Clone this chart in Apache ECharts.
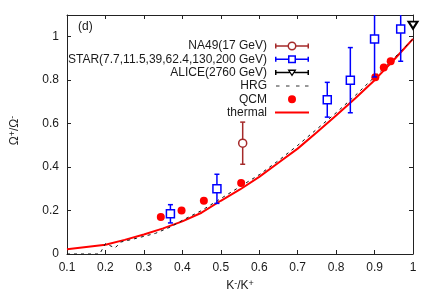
<!DOCTYPE html>
<html>
<head>
<meta charset="utf-8">
<script src="https://cdn.jsdelivr.net/npm/echarts@6/dist/echarts.min.js"></script>
<style>html,body{margin:0;padding:0;background:#fff}#c{width:436px;height:305px}</style>
</head>
<body>
<div id="c"></div>
<script>
// ---- data ----
const thermalX = [0.1, 0.2, 0.25, 0.3, 0.35, 0.4, 0.45, 0.5, 0.55, 0.6, 0.65, 0.7, 0.75, 0.8, 0.85, 0.9, 0.95, 1.0];
const thermalY = [0.022, 0.043, 0.065, 0.09, 0.118, 0.15, 0.19, 0.245, 0.297, 0.355, 0.42, 0.485, 0.56, 0.637, 0.717, 0.80, 0.893, 0.99];

const hrgX = [0.1, 0.185, 0.2, 0.225, 0.24, 0.28, 0.33, 0.37, 0.4, 0.45, 0.5, 0.55, 0.6, 0.65, 0.7, 0.75, 0.8, 0.85, 0.9, 0.95, 1.0];
const hrgY = [0.0, 0.0, 0.048, 0.028, 0.055, 0.072, 0.095, 0.125, 0.155, 0.2, 0.255, 0.31, 0.365, 0.43, 0.5, 0.575, 0.65, 0.73, 0.815, 0.9, 0.99];

const qcmX = [0.344, 0.398, 0.456, 0.553, 0.902, 0.924, 0.942];
const qcmY = [0.17, 0.20, 0.245, 0.327, 0.813, 0.858, 0.887];

const starX = [0.369, 0.49, 0.777, 0.837, 0.90, 0.968];
const starY = [0.185, 0.30, 0.71, 0.80, 0.99, 1.035];
const starErr = [0.042, 0.067, 0.08, 0.15, 0.175, 0.148];

const na49X = [0.557];
const na49Y = [0.51];
const na49Err = [0.097];

const aliceX = [1.0];
const aliceY = [1.053];

const xTickMin = 0.1, xTickMax = 1.0, xTickStep = 0.1;
const yTickMin = 0, yTickMax = 1.1, yTickStep = 0.2;

const names = {
  na49: 'NA49(17 GeV)',
  star: 'STAR(7.7,11.5,39,62.4,130,200 GeV)',
  alice: 'ALICE(2760 GeV)',
  hrg: 'HRG',
  qcm: 'QCM',
  thermal: 'thermal'
};

// ---- styling ----
const FONT = '"Liberation Sans", Arial, Helvetica, sans-serif';
const TXT = '#1a1a1a';
const RED = '#ff0000', BLUE = '#0000ff', BROWN = '#a52a2a', BLACK = '#000000';

const zip = (xs, ys) => xs.map((x, i) => [x, ys[i]]);
const zip3 = (xs, ys, es) => xs.map((x, i) => [x, ys[i], es[i]]);

function errRender(color, capHalf, lw) {
  return function (params, api) {
    const x = api.value(0), y = api.value(1), e = api.value(2);
    const top = api.coord([x, y + e]);
    const bot = api.coord([x, y - e]);
    const cs = params.coordSys;
    const ymin = cs.y, ymax = cs.y + cs.height;
    const t = Math.max(top[1], ymin), b = Math.min(bot[1], ymax);
    const st = { stroke: color, lineWidth: lw };
    const ch = [{ type: 'line', shape: { x1: top[0], y1: t, x2: top[0], y2: b }, style: st }];
    if (top[1] >= ymin) ch.push({ type: 'line', shape: { x1: top[0] - capHalf, y1: top[1], x2: top[0] + capHalf, y2: top[1] }, style: st });
    if (bot[1] <= ymax) ch.push({ type: 'line', shape: { x1: bot[0] - capHalf, y1: bot[1], x2: bot[0] + capHalf, y2: bot[1] }, style: st });
    return { type: 'group', children: ch };
  };
}

// legend icon paths, each in a 34x10 box
const BOX = 'M0,0h0.01v0.01h-0.01Z M33.99,9.99h0.01v0.01h-0.01Z ';
const CAPS = 'M0,2.5H1.5V7.5H0Z M32.5,2.5H34V7.5H32.5Z ';
const iconNA49 = 'path://' + BOX + CAPS +
  'M0,4.25H13V5.75H0Z M21,4.25H34V5.75H21Z ' +
  'M12.5,5A4.5,4.5 0 1 1 21.5,5A4.5,4.5 0 1 1 12.5,5Z M14,5A3,3 0 1 0 20,5A3,3 0 1 0 14,5Z';
const iconSTAR = 'path://' + BOX + CAPS +
  'M0,4.25H13.5V5.75H0Z M20.5,4.25H34V5.75H20.5Z ' +
  'M13,1H21V9H13Z M14.5,2.5V7.5H19.5V2.5Z';
const iconALICE = 'path://' + BOX + CAPS +
  'M0,4.25H14.5V5.75H0Z M19.5,4.25H34V5.75H19.5Z ' +
  'M12.5,2H21.5L17,9Z M14.9,3.4L17,6.6L19.1,3.4Z';
const iconHRG = 'path://' + BOX +
  'M1,4.5h3.5v1h-3.5Z M11,4.5h3.5v1h-3.5Z M21,4.5h3.5v1h-3.5Z M30,4.5h3.5v1h-3.5Z';
const iconQCM = 'path://' + BOX + 'M13,5A4,4 0 1 1 21,5A4,4 0 1 1 13,5Z';
const iconThermal = 'path://' + BOX + 'M0,4H34V6H0Z';

const tickFmt = v => String(+(+v).toFixed(2));

const chart = echarts.init(document.getElementById('c'), null, { renderer: 'canvas' });
chart.setOption({
  animation: false,
  backgroundColor: '#fff',
  textStyle: { fontFamily: FONT },
  title: {
    text: '(d)', left: 78, top: 21, padding: 0,
    textStyle: { fontSize: 12, fontWeight: 'normal', color: TXT, fontFamily: FONT }
  },
  grid: { left: 60, right: 23, top: 15, bottom: 51, containLabel: false },
  legend: {
    orient: 'vertical', align: 'right', right: 122, top: 35,
    itemWidth: 34, itemHeight: 10, itemGap: 1.3, selectedMode: false,
    textStyle: { fontSize: 12, fontFamily: FONT, color: TXT, lineHeight: 12, padding: [0, 3, 0, 0] },
    itemStyle: { borderWidth: 0 },
    data: [
      { name: names.na49, icon: iconNA49, itemStyle: { color: BROWN, borderWidth: 0, opacity: 1 } },
      { name: names.star, icon: iconSTAR, itemStyle: { color: BLUE, borderWidth: 0, opacity: 1 } },
      { name: names.alice, icon: iconALICE, itemStyle: { color: BLACK, borderWidth: 0, opacity: 1 } },
      { name: names.hrg, icon: iconHRG, itemStyle: { color: '#333', borderWidth: 0, opacity: 1 } },
      { name: names.qcm, icon: iconQCM, itemStyle: { color: RED, borderWidth: 0, opacity: 1 } },
      { name: names.thermal, icon: iconThermal, itemStyle: { color: RED, borderWidth: 0, opacity: 1 } }
    ]
  },
  xAxis: [
    {
      type: 'value', min: xTickMin, max: xTickMax, interval: xTickStep,
      name: '{n|K}{s|-}{n|/K}{s|+}', nameLocation: 'middle', nameGap: 24,
      nameTextStyle: {
        rich: {
          n: { fontSize: 12, fontFamily: FONT, color: TXT, lineHeight: 14 },
          s: { fontSize: 9, fontFamily: FONT, color: TXT, lineHeight: 9, verticalAlign: 'top' }
        }
      },
      axisLine: { show: true, onZero: false, lineStyle: { color: '#222', width: 1 } },
      axisTick: { show: true, inside: true, length: 4, lineStyle: { color: '#222' } },
      axisLabel: { fontSize: 12, color: TXT, fontFamily: FONT, margin: 8, formatter: tickFmt },
      splitLine: { show: false }
    },
    {
      type: 'value', position: 'top', min: xTickMin, max: xTickMax, interval: xTickStep,
      axisLine: { show: true, onZero: false, lineStyle: { color: '#222', width: 1 } },
      axisTick: { show: true, inside: true, length: 4, lineStyle: { color: '#222' } },
      axisLabel: { show: false },
      splitLine: { show: false }
    }
  ],
  yAxis: [
    {
      type: 'value', min: yTickMin, max: yTickMax, interval: yTickStep,
      name: '{n|Ω}{s|+}{n|/Ω}{s|-}', nameLocation: 'middle', nameGap: 45,
      nameTextStyle: {
        padding: [0, 0, 0, 8],
        rich: {
          n: { fontSize: 12, fontFamily: FONT, color: TXT, lineHeight: 14 },
          s: { fontSize: 9, fontFamily: FONT, color: TXT, lineHeight: 9, verticalAlign: 'top' }
        }
      },
      axisLine: { show: true, onZero: false, lineStyle: { color: '#222', width: 1 } },
      axisTick: { show: true, inside: true, length: 4, lineStyle: { color: '#222' } },
      axisLabel: {
        fontSize: 12, color: TXT, fontFamily: FONT, margin: 8,
        formatter: v => (v > 1.05 ? '' : tickFmt(v))
      },
      splitLine: { show: false }
    },
    {
      type: 'value', position: 'right', min: yTickMin, max: yTickMax, interval: yTickStep,
      axisLine: { show: true, onZero: false, lineStyle: { color: '#222', width: 1 } },
      axisTick: { show: true, inside: true, length: 4, lineStyle: { color: '#222' } },
      axisLabel: { show: false },
      splitLine: { show: false }
    }
  ],
  series: [
    {
      name: names.thermal, type: 'line', symbol: 'none', data: zip(thermalX, thermalY),
      lineStyle: { color: RED, width: 2 }, itemStyle: { color: RED }, z: 2
    },
    {
      name: names.hrg, type: 'line', symbol: 'none', data: zip(hrgX, hrgY),
      lineStyle: { color: '#111', width: 1, type: [3, 4] }, itemStyle: { color: '#111' }, z: 3
    },
    {
      name: names.qcm, type: 'scatter', symbol: 'circle', symbolSize: 8, data: zip(qcmX, qcmY),
      itemStyle: { color: RED, opacity: 1 }, z: 4
    },
    {
      name: 'na49err', type: 'custom', renderItem: errRender(BROWN, 2.5, 1.5),
      data: zip3(na49X, na49Y, na49Err), z: 5
    },
    {
      name: names.na49, type: 'scatter', symbol: 'circle', symbolSize: 8, data: zip(na49X, na49Y),
      itemStyle: { color: '#fff', borderColor: BROWN, borderWidth: 1.5, opacity: 1 }, z: 6
    },
    {
      name: 'starerr', type: 'custom', renderItem: errRender(BLUE, 2.5, 1.5),
      data: zip3(starX, starY, starErr), z: 5
    },
    {
      name: names.star, type: 'scatter', symbol: 'rect', symbolSize: 8, data: zip(starX, starY),
      itemStyle: { color: '#fff', borderColor: BLUE, borderWidth: 1.5, opacity: 1 }, z: 6
    },
    {
      name: names.alice, type: 'scatter', symbol: 'triangle', symbolRotate: 180, symbolSize: [9, 7],
      data: zip(aliceX, aliceY), clip: false,
      itemStyle: { color: '#fff', borderColor: BLACK, borderWidth: 2, opacity: 1 }, z: 7
    }
  ]
});
</script>
</body>
</html>
